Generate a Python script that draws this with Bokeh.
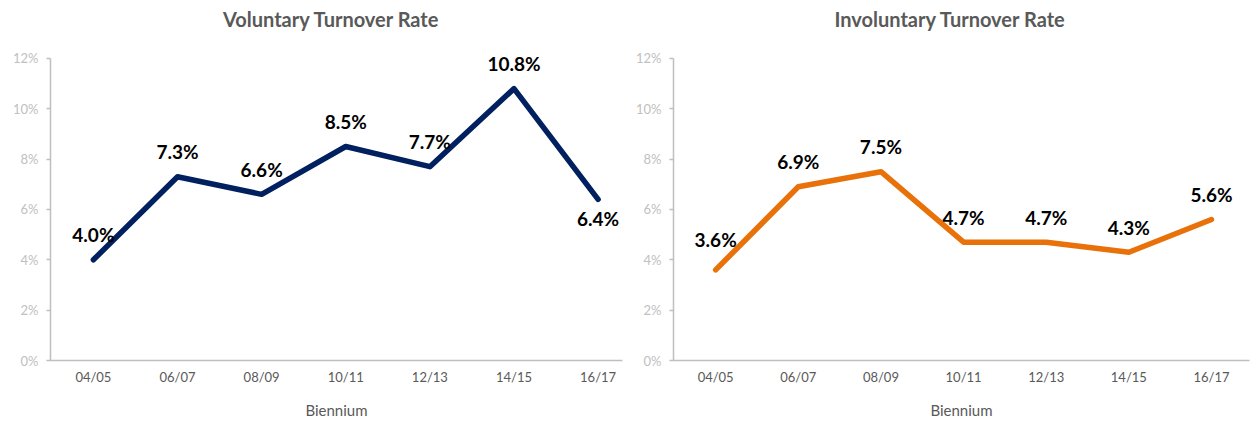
from bokeh.plotting import figure
from bokeh.layouts import row
from bokeh.models import ColumnDataSource, FixedTicker, Range1d, Label
from bokeh.core.properties import value
from bokeh.embed import file_html
from bokeh.resources import INLINE

categories = ["04/05", "06/07", "08/09", "10/11", "12/13", "14/15", "16/17"]
voluntary = [4.0, 7.3, 6.6, 8.5, 7.7, 10.8, 6.4]
involuntary = [3.6, 6.9, 7.5, 4.7, 4.7, 4.3, 5.6]
y_ticks = [0, 2, 4, 6, 8, 10, 12]
y_tick_labels = ["0%", "2%", "4%", "6%", "8%", "10%", "12%"]
x_axis_title = "Biennium"
titles = ["Voluntary Turnover Rate", "Involuntary Turnover Rate"]

FONT = "Lato"
AXIS_COLOR = "#bfbfbf"


def make_panel(title, values, color, width, border_left, border_right,
               x_end, title_x, first_off, below_last):
    p = figure(width=width, height=424, output_backend="svg", toolbar_location=None,
               x_range=Range1d(-0.51, x_end), y_range=Range1d(0, 14.30),
               min_border_left=border_left, min_border_right=border_right,
               min_border_top=0, min_border_bottom=64)
    p.outline_line_color = None
    p.xgrid.grid_line_color = None
    p.ygrid.grid_line_color = None

    xs = list(range(len(categories)))
    labels = [f"{v:.1f}%" for v in values]
    offs = [-25] * len(values)
    offs[0] = first_off
    if below_last:
        offs[-1] = 19
    src = ColumnDataSource(dict(x=xs, y=values, label=labels, off=offs))
    p.line("x", "y", source=src, line_color=color, line_width=5.5,
           line_cap="round", line_join="round")
    p.text("x", "y", text="label", source=src, y_offset="off",
           text_align="center", text_baseline="middle",
           text_font=value(FONT), text_font_size="19px",
           text_font_style="bold", text_color="black")

    p.add_layout(Label(x=title_x, y=13.57, text=title, text_align="center",
                       text_baseline="middle", text_font=FONT, text_font_size="20px",
                       text_font_style="bold", text_color="#595959"))

    xa = p.xaxis[0]
    xa.ticker = FixedTicker(ticks=xs)
    xa.major_label_overrides = {i: c for i, c in enumerate(categories)}
    xa.axis_line_color = AXIS_COLOR
    xa.axis_line_width = 1.5
    xa.major_tick_line_color = None
    xa.major_tick_out = 0
    xa.major_tick_in = 0
    xa.minor_tick_line_color = None
    xa.minor_tick_out = 0
    xa.major_label_text_font = FONT
    xa.major_label_text_font_size = "13px"
    xa.major_label_text_color = "#595959"
    xa.major_label_standoff = 8
    xa.axis_label = x_axis_title
    xa.axis_label_text_font = FONT
    xa.axis_label_text_font_size = "15px"
    xa.axis_label_text_font_style = "normal"
    xa.axis_label_text_color = "#595959"
    xa.axis_label_standoff = 13

    ya = p.yaxis[0]
    ya.ticker = FixedTicker(ticks=y_ticks)
    ya.bounds = (0, 12)
    ya.major_label_overrides = {t: l for t, l in zip(y_ticks, y_tick_labels)}
    ya.axis_line_color = AXIS_COLOR
    ya.axis_line_width = 1.5
    ya.major_tick_line_color = AXIS_COLOR
    ya.major_tick_line_width = 1.5
    ya.major_tick_in = 0
    ya.major_tick_out = 4
    ya.minor_tick_line_color = None
    ya.major_label_text_font = FONT
    ya.major_label_text_font_size = "13px"
    ya.major_label_text_color = "#c0c0c0"
    ya.major_label_standoff = 8
    return p


left = make_panel(titles[0], voluntary, "#002060", 625, 50, 3, 6.29, 2.83, -25, True)
right = make_panel(titles[1], involuntary, "#e8710a", 625, 48, 1, 6.46, 2.84, -30, False)

layout = row(left, right)
open("out.html", "w").write(file_html(layout, INLINE))
